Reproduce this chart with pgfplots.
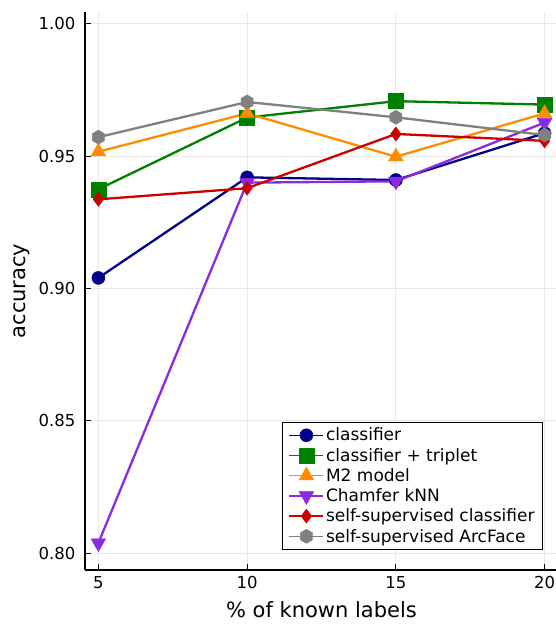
\documentclass[border=0pt]{standalone}
\usepackage{pgfplots}
\pgfplotsset{compat=1.18}
\usepackage{fontspec}
\setmainfont{DejaVu Sans}
\definecolor{cblue}{HTML}{00008B}
\definecolor{cgreen}{HTML}{008000}
\definecolor{corange}{HTML}{FF8C00}
\definecolor{cpurple}{HTML}{8A2BE2}
\definecolor{cred}{HTML}{CC0000}
\definecolor{cgray}{HTML}{808080}
\definecolor{gridc}{HTML}{E8E8E8}
\pgfdeclareplotmark{hexagon*}{%
  \pgfpathmoveto{\pgfqpointpolar{90}{\pgfplotmarksize}}%
  \pgfpathlineto{\pgfqpointpolar{150}{\pgfplotmarksize}}%
  \pgfpathlineto{\pgfqpointpolar{210}{\pgfplotmarksize}}%
  \pgfpathlineto{\pgfqpointpolar{270}{\pgfplotmarksize}}%
  \pgfpathlineto{\pgfqpointpolar{330}{\pgfplotmarksize}}%
  \pgfpathlineto{\pgfqpointpolar{30}{\pgfplotmarksize}}%
  \pgfpathclose\pgfusepathqfillstroke}
\begin{document}
\begin{tikzpicture}
\useasboundingbox (-85pt,-54pt) rectangle (471pt,570pt);
\begin{axis}[
  at={(0,0)}, anchor=south west,
  scale only axis, width=473pt, height=558pt,
  xmin=4.55, xmax=20.45, ymin=0.7936, ymax=1.0045,
  xtick={5,10,15,20}, ytick={0.80,0.85,0.90,0.95,1.00},
  axis x line*=bottom, axis y line*=left,
  axis line style={black, line width=1.1pt, -},
  tick align=inside, major tick length=6pt,
  tick style={black, line width=1pt},
  grid=major, major grid style={gridc, line width=0.9pt},
  /pgf/number format/assume math mode=true,
  yticklabel style={xshift=-6pt, /pgf/number format/fixed, /pgf/number format/fixed zerofill, /pgf/number format/precision=2},
  xticklabel style={yshift=-3pt},
  ticklabel style={font=\fontsize{16.5}{19}\selectfont},
  label style={font=\fontsize{21}{25}\selectfont},
  xlabel={\% of known labels}, ylabel={accuracy},
  xlabel style={yshift=-6pt},
  ylabel style={yshift=2pt},
  legend style={at={(1,0)}, anchor=south east, xshift=-15pt, yshift=20pt,
    draw=black, line width=0.9pt, font=\fontsize{17}{18}\selectfont,
    row sep=1.8pt, inner xsep=6pt, inner ysep=4pt, cells={anchor=west}},
  legend cell align=left,
  legend image code/.code={\draw[#1, line width=1.3pt, mark repeat=2, mark phase=2] plot coordinates {(-2pt,0pt) (15pt,0pt) (32pt,0pt)};},
]
\addplot[cblue, line width=2.3pt, mark=*, mark size=6.5pt, mark options={fill=cblue, draw=cblue, line width=0.5pt}] coordinates {(5,0.9040) (10,0.9420) (15,0.9410) (20,0.9587)};
\addlegendentry{classifier}
\addplot[cgreen, line width=2.3pt, mark=square*, mark size=7.5pt, mark options={fill=cgreen, draw=cgreen, line width=0.5pt}] coordinates {(5,0.9375) (10,0.9646) (15,0.9708) (20,0.9695)};
\addlegendentry{classifier + triplet}
\addplot[corange, line width=2.3pt, mark=triangle*, mark size=8.5pt, mark options={fill=corange, draw=corange, line width=0.5pt}] coordinates {(5,0.9517) (10,0.9662) (15,0.9498) (20,0.9662)};
\addlegendentry{M2 model}
\addplot[cpurple, line width=2.3pt, mark=triangle*, mark size=8.5pt, mark options={fill=cpurple, draw=cpurple, rotate=180, line width=0.5pt}] coordinates {(5,0.8038) (10,0.9400) (15,0.9405) (20,0.9627)};
\addlegendentry{Chamfer kNN}
\addplot[cred, line width=2.3pt, mark=diamond*, mark size=7pt, mark options={fill=cred, draw=cred, line width=0.5pt}] coordinates {(5,0.9337) (10,0.9379) (15,0.9584) (20,0.9558)};
\addlegendentry{self-supervised classifier}
\addplot[cgray, line width=2.3pt, mark=hexagon*, mark size=7pt, mark options={fill=cgray, draw=cgray, line width=0.5pt}] coordinates {(5,0.9572) (10,0.9705) (15,0.9647) (20,0.9580)};
\addlegendentry{self-supervised ArcFace}
\end{axis}
\end{tikzpicture}
\end{document}
